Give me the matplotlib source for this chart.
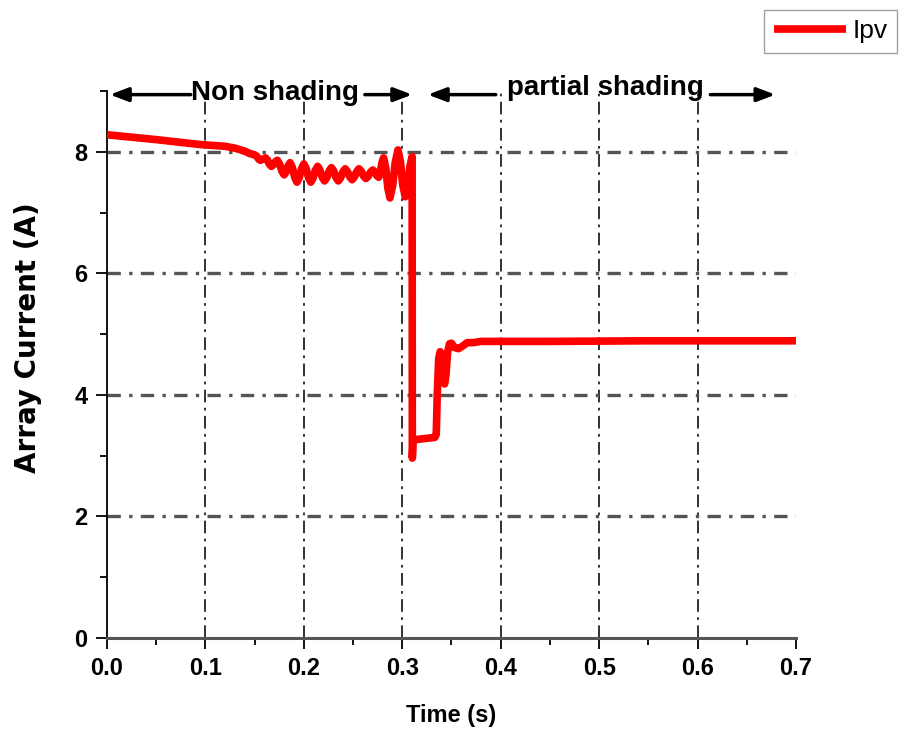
import numpy as np
import matplotlib.pyplot as plt
from matplotlib.ticker import MultipleLocator

# PV array current
t = [0.000, 0.050, 0.094, 0.120, 0.130, 0.140, 0.145, 0.150, 0.152, 0.154,
     0.156, 0.1585, 0.161, 0.163, 0.165, 0.167, 0.169, 0.171, 0.173, 0.1753,
     0.1777, 0.180, 0.182, 0.184, 0.186, 0.1883, 0.1907, 0.193, 0.1953, 0.1977,
     0.200, 0.2023, 0.2047, 0.207, 0.2093, 0.2117, 0.214, 0.2163, 0.2187, 0.221,
     0.2233, 0.2257, 0.228, 0.2303, 0.2327, 0.235, 0.2373, 0.2397, 0.242, 0.2443,
     0.2467, 0.249, 0.2513, 0.2537, 0.256, 0.2583, 0.2607, 0.263, 0.2653, 0.2677,
     0.270, 0.272, 0.274, 0.276, 0.2777, 0.2793, 0.281, 0.2832, 0.2853, 0.2875,
     0.2902, 0.2929, 0.2956, 0.2981, 0.3005, 0.303, 0.3053, 0.3077, 0.310, 0.3102,
     0.311, 0.322, 0.333, 0.3345, 0.3355, 0.337, 0.3385, 0.340, 0.3415, 0.343,
     0.3445, 0.346, 0.348, 0.350, 0.353, 0.357, 0.361, 0.366, 0.372, 0.380,
     0.450, 0.550, 0.700]
ipv = [8.28, 8.20, 8.12, 8.09, 8.06, 8.01, 7.97, 7.95, 7.93, 7.88,
       7.86, 7.88, 7.90, 7.865, 7.795, 7.76, 7.785, 7.835, 7.86, 7.80,
       7.68, 7.62, 7.67, 7.77, 7.82, 7.74, 7.58, 7.50, 7.575, 7.725,
       7.80, 7.725, 7.575, 7.50, 7.565, 7.695, 7.76, 7.70, 7.58, 7.52,
       7.575, 7.685, 7.74, 7.685, 7.575, 7.52, 7.57, 7.67, 7.72, 7.675,
       7.585, 7.54, 7.585, 7.675, 7.72, 7.68, 7.60, 7.56, 7.595, 7.665,
       7.70, 7.67, 7.61, 7.58, 7.66, 7.82, 7.90, 7.735, 7.405, 7.24,
       7.44, 7.83, 8.03, 7.84, 7.45, 7.26, 7.425, 7.755, 7.92, 2.96,
       3.26, 3.28, 3.30, 3.35, 4.00, 4.60, 4.71, 4.60, 4.30, 4.18,
       4.35, 4.70, 4.84, 4.85, 4.78, 4.76, 4.80, 4.86, 4.86, 4.88,
       4.88, 4.89, 4.89]

plt.rcParams['font.family'] = ['Liberation Sans', 'DejaVu Sans']

fig = plt.figure(figsize=[9.03, 7.32], dpi=100)
ax = fig.add_axes([0.1185, 0.1284, 0.763, 0.7473])

# grid by hand: vertical black dash-dot, horizontal grey dash-dot
for x in [0.1, 0.2, 0.3, 0.4, 0.5, 0.6]:
    ax.axvline(x, color='#222222', lw=1.3, ls=(0, (7, 3, 1.5, 3)), zorder=1)
for y in [2, 4, 6, 8]:
    ax.axhline(y, color='#555555', lw=2.4, ls=(0, (4, 2.5, 1, 2.5)), zorder=1)

ax.plot(t, ipv, color='#ff0000', lw=5.5, label='Ipv', zorder=3,
        solid_joinstyle='round', solid_capstyle='butt')

ax.set_xlim(0, 0.7)
ax.set_ylim(0, 9)
ax.spines['top'].set_visible(False)
ax.spines['right'].set_visible(False)
ax.spines['left'].set_linewidth(1.3)
ax.spines['bottom'].set_linewidth(2.2)
ax.spines['bottom'].set_color('#555555')

ax.xaxis.set_major_locator(MultipleLocator(0.1))
ax.xaxis.set_minor_locator(MultipleLocator(0.05))
ax.set_yticks([0, 2, 4, 6, 8])
ax.set_yticks([1, 3, 5, 7, 9], minor=True)
ax.xaxis.set_major_formatter(plt.FuncFormatter(lambda v, p: '%.1f' % v))
ax.tick_params(which='major', direction='out', length=8, width=1.3, labelsize=17, pad=6)
ax.tick_params(which='minor', direction='out', length=5, width=1.3)
for lab in ax.get_xticklabels() + ax.get_yticklabels():
    lab.set_fontweight('bold')

ax.set_xlabel('Time (s)', fontsize=17, fontweight='bold', labelpad=17)
ax.set_ylabel('Array Current (A)', fontsize=20, fontweight='bold',
              family=['DejaVu Sans'])
ax.yaxis.set_label_coords(-0.095, 0.55)

# region annotations
arr = dict(arrowstyle='-|>,head_length=1.1,head_width=0.42', lw=2.5, color='black',
           shrinkA=0, shrinkB=0)
ax.text(0.171, 8.97, 'Non shading', ha='center', va='center', fontsize=20,
        fontweight='bold', clip_on=False)
ax.annotate('', xy=(0.003, 8.94), xytext=(0.085, 8.94), arrowprops=arr, annotation_clip=False)
ax.annotate('', xy=(0.310, 8.94), xytext=(0.262, 8.94), arrowprops=arr, annotation_clip=False)
ax.text(0.506, 9.05, 'partial shading', ha='center', va='center', fontsize=20,
        fontweight='bold', clip_on=False)
ax.annotate('', xy=(0.326, 8.94), xytext=(0.395, 8.94), arrowprops=arr, annotation_clip=False)
ax.annotate('', xy=(0.679, 8.94), xytext=(0.613, 8.94), arrowprops=arr, annotation_clip=False)

leg = fig.legend(loc='upper right', bbox_to_anchor=(0.9934, 0.9863),
                 frameon=True, fancybox=False, handlelength=2.75, borderpad=0.35,
                 handletextpad=0.25, borderaxespad=0.0, prop={'size': 19})
leg.get_frame().set_edgecolor('#888888')
leg.get_frame().set_linewidth(1.0)

plt.savefig('out.png', dpi=100)
